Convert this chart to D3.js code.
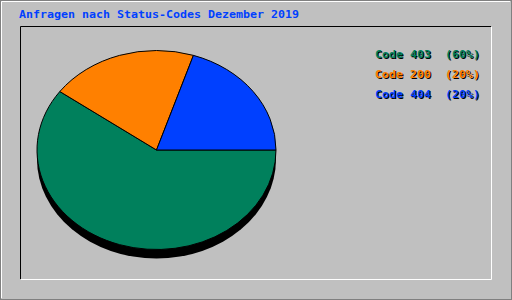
<!DOCTYPE html>
<html>
<head>
<meta charset="utf-8">
<script src="https://cdn.jsdelivr.net/npm/d3@7"></script>
<style>
  body { margin: 0; background: #c0c0c0; }
  text { font-family: "DejaVu Sans Mono", monospace; font-weight: bold; white-space: pre; }
</style>
</head>
<body>
<div class="chart"></div>
<script>
const title = "Anfragen nach Status-Codes Dezember 2019";
const codes = ["403", "200", "404"];
const percents = [60, 20, 20];
const colors = ["#00805c", "#ff8000", "#0040ff"];

const W = 512, H = 300;
const svg = d3.select(".chart").append("svg")
  .attr("width", W).attr("height", H);

svg.append("rect").attr("width", W).attr("height", H).attr("fill", "#c0c0c0");

// outer bevel
svg.append("rect").attr("x", 0.5).attr("y", 0.5).attr("width", W - 1).attr("height", H - 1)
  .attr("fill", "none").attr("stroke", "#808080");
svg.append("path").attr("d", `M1.5,${H - 2}V1.5H${W - 2}`).attr("fill", "none").attr("stroke", "#ffffff");

// inner frame (inset)
svg.append("path").attr("d", "M20.5,279V26.5H491").attr("fill", "none").attr("stroke", "#000");
svg.append("path").attr("d", "M21,279.5H491.5V27").attr("fill", "none").attr("stroke", "#fff");

svg.append("text")
  .attr("x", 19).attr("y", 18)
  .attr("font-size", 11)
  .attr("textLength", 280).attr("lengthAdjust", "spacingAndGlyphs")
  .attr("fill", "#0040ff")
  .text(title);

// pie
const cx = 156.5, cy = 150, rx = 119.5, ry = 99.5, depth = 9;
const pie = d3.pie().sort(null).startAngle(Math.PI / 2).endAngle(Math.PI / 2 + 2 * Math.PI);
const arc = d3.arc().innerRadius(0).outerRadius(rx);
const arcs = pie(percents);

svg.append("ellipse")
  .attr("cx", cx).attr("cy", cy + depth).attr("rx", rx).attr("ry", ry)
  .attr("fill", "#000");

const g = svg.append("g")
  .attr("transform", `translate(${cx},${cy}) scale(1,${ry / rx})`);

g.selectAll("path").data(arcs).join("path")
  .attr("d", arc)
  .attr("fill", (d, i) => colors[i])
  .attr("stroke", "#000")
  .attr("stroke-width", 1)
  .attr("vector-effect", "non-scaling-stroke");

// legend
const legend = svg.append("g");
codes.forEach((c, i) => {
  const label = `Code ${c}  (${percents[i]}%)`;
  const y = 57.5 + i * 20;
  legend.append("text").attr("x", 376).attr("y", y + 1)
    .attr("font-size", 11).attr("textLength", 105).attr("lengthAdjust", "spacingAndGlyphs")
    .attr("fill", "#000").text(label);
  legend.append("text").attr("x", 375).attr("y", y)
    .attr("font-size", 11).attr("textLength", 105).attr("lengthAdjust", "spacingAndGlyphs")
    .attr("fill", colors[i]).text(label);
});
</script>
</body>
</html>
